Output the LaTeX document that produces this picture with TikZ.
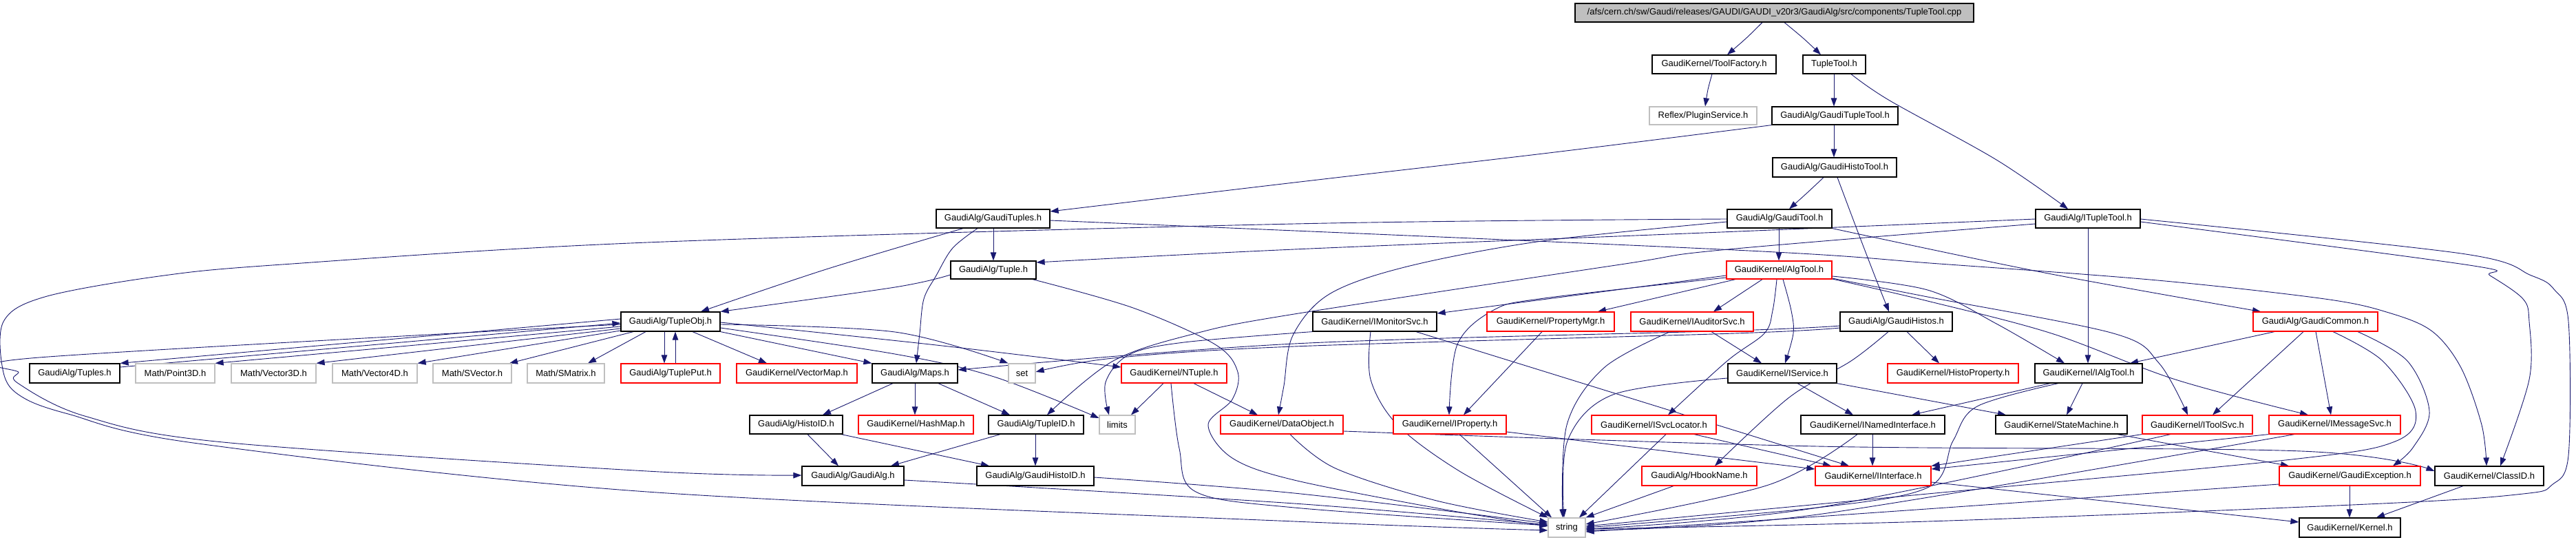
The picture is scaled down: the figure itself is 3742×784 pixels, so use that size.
\documentclass[tikz,border=0pt]{standalone}
\usepackage{fontspec}
\setmainfont{Liberation Sans}
\usetikzlibrary{arrows.meta,backgrounds}
\definecolor{edgec}{HTML}{191970}
\definecolor{grayb}{HTML}{BFBFBF}
\tikzset{
  nb/.style={draw=black,line width=1.2pt,fill=white,inner sep=0pt,font=\fontsize{13}{15}\selectfont},
  nr/.style={nb,draw=red},
  ng/.style={nb,draw=grayb},
  nroot/.style={nb,fill=grayb},
  e/.style={draw=edgec,line width=0.9pt,-{Triangle[length=12pt,width=8.5pt]}},
}
\newcommand\bx[7]{\node[#6,minimum width={#4-#2},minimum height={#5-#3}] (#1) at ({(#2+#4)/2},{(#3+#5)/2}) {#7};}
\newcommand\ed[1]{\draw[e] plot[smooth,tension=0.55] coordinates {#1};}
\begin{document}
\begin{tikzpicture}[x=1pt,y=-1pt]
\useasboundingbox (0,0) rectangle (3742,784);
\bx{root}{2288}{5}{2867}{32}{nroot}{/afs/cern.ch/sw/Gaudi/releases/GAUDI/GAUDI\_v20r3/GaudiAlg/src/components/TupleTool.cpp}
\bx{toolfactory}{2400}{80}{2580}{107}{nb}{GaudiKernel/ToolFactory.h}
\bx{tupletoolh}{2619}{80}{2710}{107}{nb}{TupleTool.h}
\bx{plugin}{2396}{155}{2552}{181}{ng}{Reflex/PluginService.h}
\bx{gtt}{2574}{155}{2757}{181}{nb}{GaudiAlg/GaudiTupleTool.h}
\bx{ght}{2575}{229}{2755}{257}{nb}{GaudiAlg/GaudiHistoTool.h}
\bx{gtuples}{1360}{304}{1525}{331}{nb}{GaudiAlg/GaudiTuples.h}
\bx{gtool}{2509}{304}{2661}{331}{nb}{GaudiAlg/GaudiTool.h}
\bx{itt}{2957}{304}{3109}{331}{nb}{GaudiAlg/ITupleTool.h}
\bx{tuple}{1381}{379}{1505}{405}{nb}{GaudiAlg/Tuple.h}
\bx{algtool}{2508}{379}{2661}{405}{nr}{GaudiKernel/AlgTool.h}
\bx{tobj}{902}{453}{1046}{481}{nb}{GaudiAlg/TupleObj.h}
\bx{imon}{1907}{453}{2087}{481}{nb}{GaudiKernel/IMonitorSvc.h}
\bx{pmgr}{2160}{453}{2345}{481}{nr}{GaudiKernel/PropertyMgr.h}
\bx{iaud}{2369}{453}{2547}{481}{nr}{GaudiKernel/IAuditorSvc.h}
\bx{ghist}{2673}{453}{2836}{481}{nb}{GaudiAlg/GaudiHistos.h}
\bx{gcom}{3273}{453}{3454}{481}{nr}{GaudiAlg/GaudiCommon.h}
\bx{tuples}{43}{528}{174}{556}{nb}{GaudiAlg/Tuples.h}
\bx{p3d}{197}{528}{312}{556}{ng}{Math/Point3D.h}
\bx{v3d}{336}{528}{459}{556}{ng}{Math/Vector3D.h}
\bx{v4d}{483}{528}{606}{556}{ng}{Math/Vector4D.h}
\bx{svec}{629}{528}{743}{556}{ng}{Math/SVector.h}
\bx{smat}{766}{528}{878}{556}{ng}{Math/SMatrix.h}
\bx{tput}{902}{528}{1046}{556}{nr}{GaudiAlg/TuplePut.h}
\bx{vmap}{1070}{528}{1245}{556}{nr}{GaudiKernel/VectorMap.h}
\bx{maps}{1267}{528}{1391}{556}{nb}{GaudiAlg/Maps.h}
\bx{set}{1465}{528}{1504}{556}{ng}{set}
\bx{ntuple}{1629}{528}{1782}{556}{nr}{GaudiKernel/NTuple.h}
\bx{iserv}{2510}{528}{2668}{556}{nb}{GaudiKernel/IService.h}
\bx{hprop}{2742}{528}{2932}{556}{nr}{GaudiKernel/HistoProperty.h}
\bx{ialg}{2956}{528}{3112}{556}{nb}{GaudiKernel/IAlgTool.h}
\bx{histoid}{1089}{603}{1224}{630}{nb}{GaudiAlg/HistoID.h}
\bx{hmap}{1247}{603}{1414}{630}{nr}{GaudiKernel/HashMap.h}
\bx{tupleid}{1436}{603}{1574}{630}{nb}{GaudiAlg/TupleID.h}
\bx{limits}{1597}{603}{1649}{630}{ng}{limits}
\bx{dobj}{1773}{603}{1951}{630}{nr}{GaudiKernel/DataObject.h}
\bx{iprop}{2024}{603}{2188}{630}{nr}{GaudiKernel/IProperty.h}
\bx{isvc}{2312}{603}{2493}{630}{nr}{GaudiKernel/ISvcLocator.h}
\bx{inamed}{2616}{603}{2825}{630}{nb}{GaudiKernel/INamedInterface.h}
\bx{sm}{2899}{603}{3090}{630}{nb}{GaudiKernel/StateMachine.h}
\bx{itool}{3112}{603}{3272}{630}{nr}{GaudiKernel/IToolSvc.h}
\bx{imsg}{3296}{603}{3487}{630}{nr}{GaudiKernel/IMessageSvc.h}
\bx{galg}{1165}{677}{1313}{705}{nb}{GaudiAlg/GaudiAlg.h}
\bx{ghid}{1419}{677}{1589}{705}{nb}{GaudiAlg/GaudiHistoID.h}
\bx{hbook}{2385}{677}{2552}{705}{nr}{GaudiAlg/HbookName.h}
\bx{iint}{2637}{677}{2805}{705}{nr}{GaudiKernel/IInterface.h}
\bx{gexc}{3311}{677}{3516}{705}{nr}{GaudiKernel/GaudiException.h}
\bx{classid}{3537}{677}{3695}{705}{nb}{GaudiKernel/ClassID.h}
\bx{string}{2249}{752}{2303}{780}{ng}{string}
\bx{kernel}{3340}{752}{3487}{780}{nb}{GaudiKernel/Kernel.h}
\begin{scope}[on background layer]
\fill[white] (0,0) rectangle (3742,784);
\ed{(root.south -| 2560,0) (2536,56) (toolfactory.north -| 2509,0)}
\ed{(root.south -| 2592,0) (2620,56) (tupletoolh.north -| 2645,0)}
\ed{(toolfactory.south -| 2487,0) (2481,130) (plugin.north -| 2477,0)}
\ed{(tupletoolh.south -| 2664,0) (gtt.north -| 2664,0)}
\ed{(tupletoolh.south -| 2689,0) (2745,146) (2900,232) (itt.north -| 3004,0)}
\ed{(gtt.south -| 2664,0) (ght.north -| 2664,0)}
\ed{(gtt.south west) (2250,222) (1880,265) (gtuples.east |- 0,307)}
\ed{(ght.south -| 2649,0) (2624,281) (gtool.north -| 2599,0)}
\ed{(ght.south -| 2669,0) (2700,340) (2727,410) (ghist.north -| 2744,0)}
\ed{(gtool.south -| 2584,0) (algtool.north -| 2584,0)}
\ed{(gtool.south east) (2975,397) (gcom.north -| 3284,0)}
\ed{(gtool.west |- 0,322) (2240,350) (2044,387) (1931,427) (1878,487) (1865,560) (dobj.north -| 1857,0)}
\ed{(gtool.west |- 0,318) (1880,325) (940,352) (410,384) (231,401) (65,431) (5,467) (5,541) (30,575) (99,601) (288,644) (940,714) (1880,757) (string.west |- 0,770)}
\ed{(gtuples.south -| 1443,0) (tuple.north -| 1443,0)}
\ed{(gtuples.south -| 1399,0) (1200,391) (tobj.north -| 1018,0)}
\ed{(gtuples.south -| 1420,0) (1384,360) (1360,400) (1342,434) (1336,484) (maps.north -| 1331,0)}
\ed{(gtuples.east |- 0,320) (2520,363) (2817,383) (3134,407) (3377,434) (3470,454) (3533,481) (3575,534) (3605,617) (classid.north -| 3612,0)}
\ed{(itt.west |- 0,318) (2500,337) (1880,362) (tuple.east |- 0,381)}
\ed{(itt.west |- 0,325) (2500,363) (2354,384) (1880,456) (1737,484) (1617,524) (tupleid.north -| 1521,0)}
\ed{(itt.south -| 3033,0) (ialg.north -| 3033,0)}
\ed{(itt.east |- 0,322) (3587,385) (3617,400) (3665,434) (3674,467) (3674,551) (classid.north -| 3632,0)}
\ed{(itt.east |- 0,318) (3575,368) (3677,400) (3710,420) (3731,467) (3731,661) (3707,704) (3665,717) (3461,731) (2800,757) (string.east |- 0,768)}
\ed{(tuple.west |- 0,399) (1300,417) (tobj.north east)}
\ed{(tuple.south -| 1500,0) (1646,447) (1765,500) (1798,540) (1790,580) (1755,617) (1790,665) (1880,697) (2100,740) (string.west |- 0,764)}
\ed{(algtool.west |- 0,400) (imon.east |- 0,455)}
\ed{(algtool.west |- 0,403) (2243,433) (2170,450) (2117,500) (iprop.north -| 2105,0)}
\ed{(algtool.south -| 2521,0) (pmgr.north -| 2321,0)}
\ed{(algtool.south -| 2560,0) (iaud.north -| 2489,0)}
\ed{(algtool.south -| 2581,0) (2575,451) (2563,484) (2509,524) (isvc.north -| 2423,0)}
\ed{(algtool.south -| 2590,0) (2602,451) (2605,484) (iserv.north -| 2593,0)}
\ed{(algtool.east |- 0,401) (2800,421) (2900,470) (ialg.north -| 2999,0)}
\ed{(algtool.east |- 0,404) (2800,431) (3070,484) (3136,527) (itool.north -| 3178,0)}
\ed{(algtool.east |- 0,405) (2800,437) (2980,484) (3160,551) (imsg.north -| 3353,0)}
\ed{(tobj.west |- 0,463) (tuples.north east)}
\ed{(tuples.east |- 0,533) (tobj.west |- 0,469)}
\ed{(tobj.west |- 0,474) (p3d.north east)}
\ed{(tobj.west |- 0,477) (v3d.north east)}
\ed{(tobj.west |- 0,480) (v4d.north east)}
\ed{(tobj.south -| 920,0) (svec.north -| 740,0)}
\ed{(tobj.south -| 938,0) (smat.north -| 854,0)}
\ed{(tobj.south -| 965,0) (tput.north -| 965,0)}
\ed{(tput.north -| 981,0) (tobj.south -| 981,0)}
\ed{(tobj.south -| 1006,0) (vmap.north -| 1114,0)}
\ed{(tobj.south east) (maps.north west)}
\ed{(tobj.east |- 0,471) (1300,482) (set.north west)}
\ed{(tobj.east |- 0,468) (1360,501) (ntuple.west |- 0,533)}
\ed{(tobj.east |- 0,476) (1300,514) (1444,547) (limits.west |- 0,607)}
\ed{(tobj.west |- 0,471) (57,519) (27,541) (27,557) (123,604) (324,642) (940,684) (galg.west |- 0,690)}
\ed{(maps.south -| 1297,0) (histoid.north -| 1195,0)}
\ed{(maps.south -| 1329,0) (hmap.north -| 1329,0)}
\ed{(maps.south -| 1363,0) (tupleid.north -| 1467,0)}
\ed{(histoid.south -| 1173,0) (galg.north -| 1218,0)}
\ed{(histoid.south -| 1222,0) (ghid.north -| 1437,0)}
\ed{(tupleid.south -| 1453,0) (galg.north -| 1294,0)}
\ed{(tupleid.south -| 1504,0) (ghid.north -| 1504,0)}
\ed{(galg.east |- 0,697) (1880,731) (string.west |- 0,762)}
\ed{(ghid.east |- 0,693) (1880,716) (string.west |- 0,760)}
\ed{(ntuple.south -| 1690,0) (limits.north -| 1643,0)}
\ed{(ntuple.south -| 1734,0) (dobj.north -| 1827,0)}
\ed{(ntuple.south -| 1701,0) (1713,651) (1737,714) (1880,737) (string.west |- 0,763)}
\ed{(dobj.south -| 1874,0) (1940,680) (2087,727) (string.west |- 0,758)}
\ed{(dobj.east |- 0,626) (2640,648) (3343,655) (classid.west |- 0,684)}
\ed{(imon.south -| 1991,0) (1991,551) (2030,617) (2120,684) (string.north west)}
\ed{(imon.south west) (1720,497) (1640,515) (1606,555) (limits.north -| 1611,0)}
\ed{(imon.south -| 2057,0) (iint.north -| 2686,0)}
\ed{(pmgr.south -| 2240,0) (iprop.north -| 2126,0)}
\ed{(iaud.south -| 2486,0) (iserv.north -| 2559,0)}
\ed{(iaud.south -| 2426,0) (2330,534) (2276,617) (string.north -| 2270,0)}
\ed{(ghist.west |- 0,473) (2520,480) (1880,499) (maps.east |- 0,537)}
\ed{(ghist.west |- 0,476) (2520,484) (1880,503) (1617,520) (set.east |- 0,540)}
\ed{(ghist.south -| 2770,0) (hprop.north -| 2817,0)}
\ed{(ghist.south -| 2743,0) (2689,524) (2599,577) (hbook.north -| 2491,0)}
\ed{(gcom.south -| 3304,0) (ialg.north -| 3094,0)}
\ed{(gcom.south -| 3346,0) (itool.north -| 3214,0)}
\ed{(gcom.south -| 3364,0) (imsg.north -| 3386,0)}
\ed{(gcom.south -| 3389,0) (3461,524) (3509,597) (3479,641) (3329,667) (2800,717) (string.east |- 0,764)}
\ed{(gcom.south -| 3425,0) (3497,524) (3529,597) (3505,650) (gexc.north -| 3476,0)}
\ed{(iserv.south -| 2611,0) (inamed.north -| 2692,0)}
\ed{(iserv.south east) (sm.north -| 2914,0)}
\ed{(iserv.west |- 0,549) (2343,573) (2277,640) (string.north -| 2272,0)}
\ed{(ialg.south -| 3025,0) (sm.north -| 3002,0)}
\ed{(ialg.south -| 2978,0) (inamed.north -| 2777,0)}
\ed{(ialg.south -| 2990,0) (2872,590) (2837,640) (2802,707) (2640,737) (string.east |- 0,766)}
\ed{(iprop.south -| 2120,0) (string.north -| 2254,0)}
\ed{(iprop.east |- 0,627) (iint.west |- 0,681)}
\ed{(isvc.south -| 2420,0) (string.north -| 2294,0)}
\ed{(isvc.south -| 2461,0) (iint.north -| 2660,0)}
\ed{(inamed.south -| 2720,0) (iint.north -| 2720,0)}
\ed{(inamed.south -| 2698,0) (2569,704) (string.east |- 0,761)}
\ed{(sm.south -| 3076,0) (gexc.north -| 3325,0)}
\ed{(itool.south west) (iint.north east)}
\ed{(itool.south -| 3153,0) (2640,737) (string.east |- 0,768)}
\ed{(imsg.south west) (iint.east |- 0,681)}
\ed{(imsg.south -| 3333,0) (2640,747) (string.east |- 0,770)}
\ed{(hbook.south -| 2431,0) (string.north east)}
\ed{(iint.east |- 0,700) (kernel.west |- 0,758)}
\ed{(gexc.south -| 3413,0) (kernel.north -| 3413,0)}
\ed{(gexc.west |- 0,703) (2640,750) (string.east |- 0,772)}
\ed{(classid.south -| 3578,0) (kernel.north -| 3452,0)}
\end{scope}
\end{tikzpicture}
\end{document}
